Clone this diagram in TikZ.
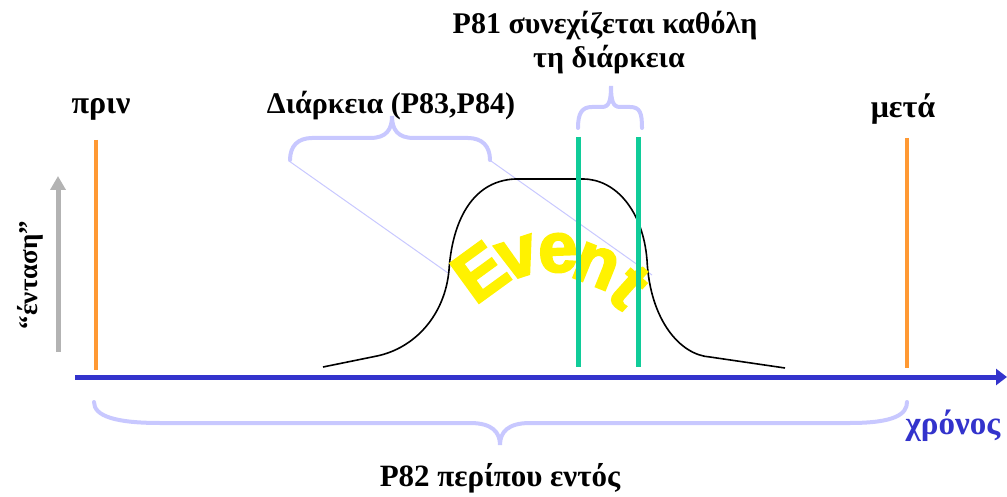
\documentclass[tikz,border=0pt]{standalone}
\usepackage{fontspec}
\setmainfont{Liberation Serif}
\newfontfamily\evfont[FakeBold=3]{Liberation Sans Bold}
\usetikzlibrary{arrows.meta}
\definecolor{axisblue}{HTML}{3333CC}
\definecolor{orangeline}{HTML}{FF9933}
\definecolor{greenline}{HTML}{10CC99}
\definecolor{bracecol}{HTML}{C8C8FF}
\definecolor{grayarrow}{HTML}{B3B3B3}
\tikzset{
  lbl/.style={font=\fontsize{30}{34}\selectfont\bfseries, inner sep=0pt},
  evl/.style={font=\evfont\fontsize{71}{72}\selectfont, text=yellow, inner sep=0pt},
  orangebar/.style={orangeline, line width=4pt},
  greenbar/.style={greenline, line width=5pt},
  bracestyle/.style={bracecol, line width=4pt, line cap=round},
  guide/.style={bracecol, line width=1pt},
}
\begin{document}
\begin{tikzpicture}[x=1pt,y=-1pt]
\useasboundingbox (0,0) rectangle (1007,497);
% labels
\node[lbl, font=\fontsize{32}{34}\selectfont\bfseries] (prin) at (101,109) {πριν};
\node[lbl, font=\fontsize{32}{34}\selectfont\bfseries] (meta) at (903,109) {μετά};
\node[lbl] (diar) at (391,106) {Διάρκεια (P83,P84)};
\node[lbl] (p81a) at (605,26) {P81 συνεχίζεται καθόλη};
\node[lbl] (p81b) at (609,60) {τη διάρκεια};
\node[lbl, font=\fontsize{33}{34}\selectfont\bfseries, text=axisblue] (xronos) at (953,426) {χρόνος};
\node[lbl, font=\fontsize{31}{34}\selectfont\bfseries] (p82) at (500,478) {P82 περίπου εντός};
\node[lbl, font=\fontsize{27}{30}\selectfont\bfseries, rotate=90] (entasi) at (30,275) {“ένταση”};
% vertical bars
\coordinate (o1t) at (96,140); \coordinate (o1b) at (96,370);
\coordinate (o2t) at (907,138); \coordinate (o2b) at (907,368);
\coordinate (g1t) at (578,137); \coordinate (g1b) at (578,367);
\coordinate (g2t) at (638,137); \coordinate (g2b) at (638,367);
\draw[orangebar] (o1t) -- (o1b);
\draw[orangebar] (o2t) -- (o2b);
% gray arrow
\coordinate (ga) at (58,352); \coordinate (gb) at (58,176);
\draw[grayarrow, line width=5pt, -{Triangle[length=14pt,width=15pt]}] (ga) -- (gb);
% axis
\coordinate (ax0) at (75,377); \coordinate (ax1) at (1007,377);
\draw[axisblue, line width=5pt, -{Triangle[length=11pt,width=16pt]}] (ax0) -- (ax1);
% guide lines
\coordinate (bl1) at (289,161); \coordinate (bl2) at (448,273);
\coordinate (br1) at (491,161); \coordinate (br2) at (652,275);
\draw[guide] (bl1) -- (bl2);
\draw[guide] (br1) -- (br2);
% event curve
\draw[black, line width=1.6pt] (323,367) -- (377,356)
  .. controls (415,348) and (445,315) .. (449,270)
  .. controls (452,225) and (470,181) .. (515,179) -- (583,179)
  .. controls (615,179) and (643,210) .. (647,260)
  .. controls (650,320) and (680,355) .. (710,357) -- (785,368);
% Event letters
\node[evl, rotate=36] (eE) at (480,272) {E};
\node[evl, rotate=18] (ev) at (518,258) {v};
\node[evl, rotate=2] (ee) at (558,253) {e};
\node[evl, rotate=-22] (en) at (596,266) {n};
\node[evl, rotate=-42] (et) at (629,287) {t};
% green bars on top
\draw[greenbar] (g1t) -- (g1b);
\draw[greenbar] (g2t) -- (g2b);
% braces
\draw[bracestyle] (290,160) .. controls (290,146) and (298,138) .. (312,138) -- (370,138)
  .. controls (386,138) and (392,130) .. (392,116)
  .. controls (392,130) and (398,138) .. (414,138) -- (468,138)
  .. controls (482,138) and (490,146) .. (490,160);
\draw[bracestyle] (578,128) .. controls (578,113) and (582,107) .. (592,107) -- (602,107)
  .. controls (609,107) and (611,101) .. (611,86)
  .. controls (611,101) and (613,107) .. (620,107) -- (630,107)
  .. controls (640,107) and (642,113) .. (642,128);
\draw[bracestyle] (94,402) .. controls (94,416) and (115,423) .. (160,423) -- (470,423)
  .. controls (492,423) and (500,432) .. (500,445)
  .. controls (500,432) and (508,423) .. (530,423) -- (850,423)
  .. controls (895,423) and (907,414) .. (907,402);
\end{tikzpicture}
\end{document}
